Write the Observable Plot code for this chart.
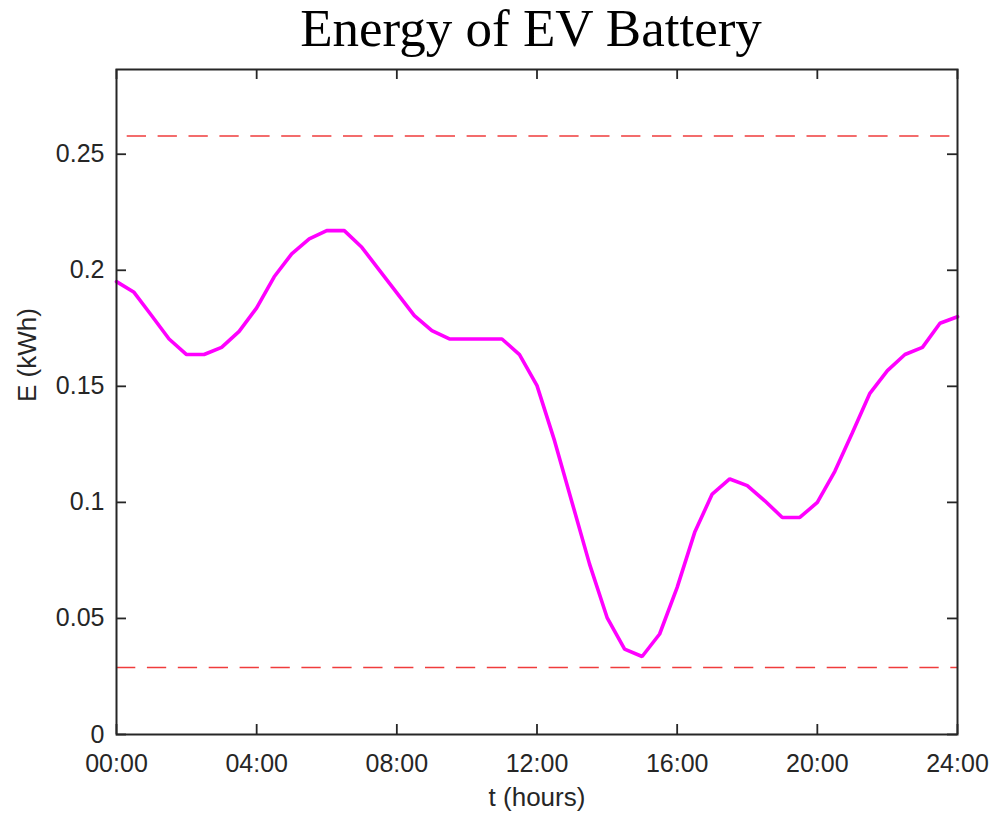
<!DOCTYPE html>
<html>
<head>
<meta charset="utf-8">
<script src="https://cdn.jsdelivr.net/npm/d3@7"></script>
<script src="https://cdn.jsdelivr.net/npm/@observablehq/plot@0.6"></script>
<style>
  html, body { margin: 0; padding: 0; background: #fff; overflow: hidden; }
  #wrap { position: relative; width: 994px; height: 817px; }
  #title {
    position: absolute; top: 2px; left: 100px; width: 862px;
    text-align: center; font-family: "Liberation Serif", "Times New Roman", serif;
    font-size: 53px; line-height: 53px; color: #000; white-space: nowrap;
  }
  #chart { position: absolute; top: 0; left: 0; }
</style>
</head>
<body>
<div id="wrap">
  <div id="title">Energy of EV Battery</div>
  <div id="chart"></div>
</div>
<script>
// Time of day (hours), sampled every half hour
const hours = [0, 0.5, 1, 1.5, 2, 2.5, 3, 3.5, 4, 4.5, 5, 5.5, 6, 6.5, 7, 7.5, 8, 8.5, 9, 9.5,
  10, 10.5, 11, 11.5, 12, 12.5, 13, 13.5, 14, 14.5, 15, 15.5, 16, 16.5, 17, 17.5, 18, 18.5, 19, 19.5,
  20, 20.5, 21, 21.5, 22, 22.5, 23, 23.5, 24];

// Stored battery energy (kWh)
const energy = [0.1951, 0.1905, 0.1805, 0.1704, 0.1637, 0.1637, 0.1668, 0.1737, 0.1838, 0.1972,
  0.2071, 0.2135, 0.2171, 0.2171, 0.2099, 0.2001, 0.1903, 0.1805, 0.1740, 0.1704,
  0.1704, 0.1704, 0.1704, 0.1637, 0.1503, 0.1266, 0.1000, 0.0734, 0.0504, 0.0368,
  0.0336, 0.0433, 0.0634, 0.0871, 0.1036, 0.1101, 0.1072, 0.1007, 0.0935, 0.0935,
  0.1000, 0.1134, 0.1300, 0.1470, 0.1568, 0.1637, 0.1668, 0.1772, 0.1800];

// Energy limits of the battery (kWh)
const energyMax = 0.2578;
const energyMin = 0.0289;

// Axis settings
const xTicks = [0, 4, 8, 12, 16, 20, 24];
const yTicks = [0, 0.05, 0.1, 0.15, 0.2, 0.25];
const yTop = 0.2865;

const series = hours.map((t, i) => ({t, e: energy[i]}));

const W = 994, H = 817;
const mL = 116, mR = 37, mT = 69, mB = 83;
const plotW = W - mL - mR, plotH = H - mT - mB;
const tickLen = 10;
const ink = "#262626";
const limitColor = "#f03c3c";
const dash = "19.3,11.6";

const chart = Plot.plot({
  width: W,
  height: H,
  marginLeft: mL,
  marginRight: mR,
  marginTop: mT,
  marginBottom: mB,
  style: {fontFamily: "'Liberation Sans', Arial, sans-serif", fontSize: "25px", color: ink, background: "transparent"},
  x: {
    domain: [0, 24], ticks: xTicks, tickSize: 0, tickPadding: 19.5, label: null,
    tickFormat: h => String(h).padStart(2, "0") + ":00"
  },
  y: {
    domain: [0, yTop], ticks: yTicks, tickSize: 0, tickPadding: 12, label: null,
    tickFormat: d => String(d)
  },
  marks: [
    // limit lines
    Plot.ruleY([energyMax], {stroke: limitColor, strokeWidth: 1.5, strokeDasharray: dash, strokeDashoffset: 20.2}),
    Plot.ruleY([energyMin], {stroke: limitColor, strokeWidth: 1.5, strokeDasharray: dash}),
    // energy curve
    Plot.line(series, {x: "t", y: "e", stroke: "#ff00ff", strokeWidth: 3.6, strokeLinejoin: "miter"}),
    // inward tick marks on all four sides
    Plot.tickY(yTicks, {y: d => d, stroke: ink, strokeWidth: 1.8, insetRight: plotW - tickLen}),
    Plot.tickY(yTicks, {y: d => d, stroke: ink, strokeWidth: 1.8, insetLeft: plotW - tickLen}),
    Plot.tickX(xTicks, {x: d => d, stroke: ink, strokeWidth: 1.8, insetTop: plotH - tickLen}),
    Plot.tickX(xTicks, {x: d => d, stroke: ink, strokeWidth: 1.8, insetBottom: plotH - tickLen}),
    Plot.frame({stroke: ink, strokeWidth: 2}),
    // axis titles
    Plot.text(["t (hours)"], {frameAnchor: "bottom", dy: 63, text: d => d, fontSize: 26, fill: ink, lineAnchor: "middle"}),
    Plot.text(["E (kWh)"], {frameAnchor: "left", dx: -89, text: d => d, fontSize: 26, fill: ink, rotate: -90, lineAnchor: "middle"})
  ]
});

document.getElementById("chart").appendChild(chart);
</script>
</body>
</html>
